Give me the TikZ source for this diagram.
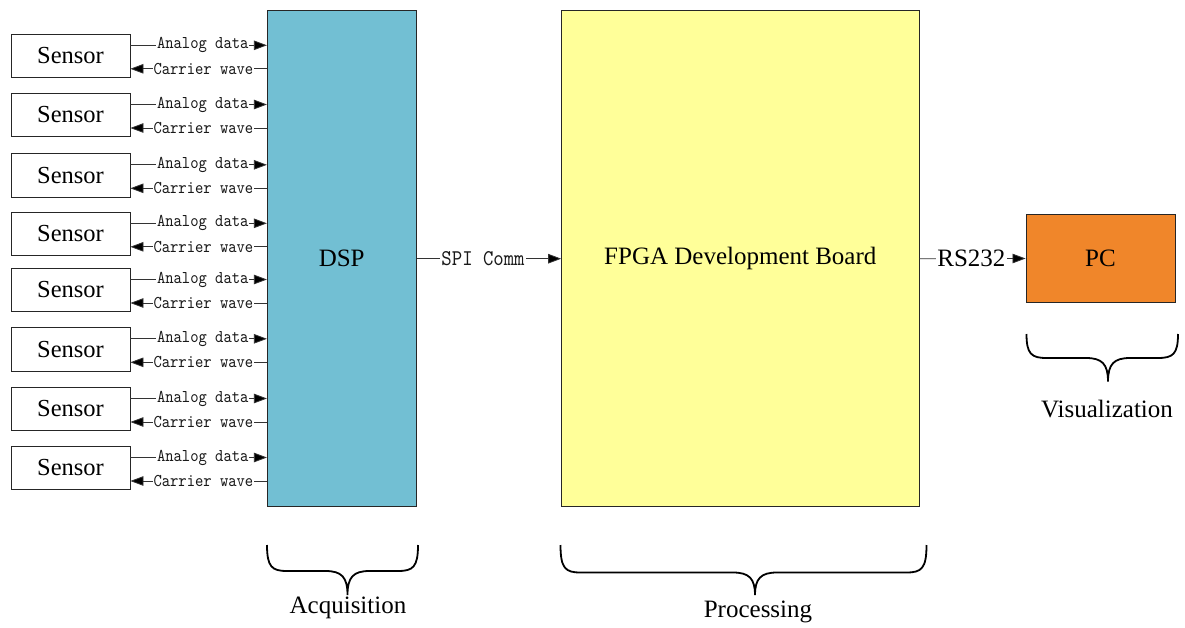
\documentclass[tikz,border=0pt]{standalone}
\usepackage{fontspec}
\setmainfont{Liberation Serif}
\newfontfamily\sigfont{lmmono10-regular.otf}[FakeStretch=0.88]
\usetikzlibrary{arrows.meta}

\definecolor{dspblue}{HTML}{72BFD3}
\definecolor{fpgayellow}{HTML}{FFFF99}
\definecolor{pcorange}{HTML}{F0862A}
\definecolor{wire}{HTML}{333333}

% curly brace opening upwards: #1 left x, #2 right x, #3 top y, #4 bar y, #5 tip y, #6 tip x
\newcommand\drawbrace[6]{%
  \draw[bracestyle] (#1,#3) .. controls (#1,#4-4) and (#1+5,#4) .. (#1+20,#4)
    -- (#6-22,#4) .. controls (#6-6,#4) and (#6,#4+6) .. (#6,#5)
    .. controls (#6,#4+6) and (#6+6,#4) .. (#6+22,#4)
    -- (#2-20,#4) .. controls (#2-5,#4) and (#2,#4-4) .. (#2,#3);
}

\begin{document}
\begin{tikzpicture}[x=1pt,y=-1pt,
  bigtext/.style={font=\fontsize{25pt}{30pt}\selectfont},
  sensorbox/.style={draw=black!85,line width=0.8pt,fill=white,minimum width=119pt,
    minimum height=43.5pt,inner sep=0pt,font=\fontsize{24.5pt}{30pt}\selectfont},
  block/.style={draw=black!85,line width=0.9pt,inner sep=0pt,bigtext},
  arr/.style={draw=wire,line width=0.8pt,-{Triangle[length=13pt,width=9.5pt,fill=black]}},
  sig/.style={fill=white,inner sep=1pt,text=black!90,
    font=\sigfont\fontsize{18pt}{20pt}\selectfont},
  sigbig/.style={fill=white,inner sep=1.5pt,text=black!90,
    font=\sigfont\fontsize{22.5pt}{24pt}\selectfont},
  bracestyle/.style={draw=black,line width=1.8pt},
  caption/.style={bigtext,inner sep=0pt}]

\useasboundingbox (0,0) rectangle (1185,628);

% processing blocks
\node[block,fill=dspblue,minimum width=148.7pt,minimum height=496pt] (dsp) at (341.7,258.7) {DSP};
\node[block,fill=fpgayellow,minimum width=357.3pt,minimum height=496pt] (fpga) at (740.3,258.7) {FPGA Development Board};
\node[block,fill=pcorange,minimum width=149pt,minimum height=87.6pt] (pc) at (1100.5,258.5) {PC};

% sensors with their two signal lines
\foreach \i/\y in {1/55.8,2/115,3/175.3,4/233.8,5/290,6/349.3,7/409,8/468}{
  \node[sensorbox] (s\i) at (70.5,\y) {Sensor};
  \draw[arr] ([yshift=10.5pt]s\i.east) -- ([yshift=10.5pt]s\i.east -| dsp.west)
    node[sig,pos=0.53] {Analog data};
  \draw[arr] ([yshift=-13pt]s\i.east -| dsp.west) -- ([yshift=-13pt]s\i.east)
    node[sig,pos=0.465] {Carrier wave};
}

% links between blocks
\draw[arr] (dsp.east) -- (fpga.west) node[sigbig,pos=0.46] {SPI Comm};
\draw[arr] (fpga.east) -- (pc.west) node[bigtext,fill=white,inner sep=1.5pt,pos=0.49] {RS232};

% stage braces and captions
\drawbrace{267}{418}{545}{571}{595}{347.5}
\drawbrace{560.5}{926.5}{545}{572.5}{595}{755}
\drawbrace{1026.5}{1178}{334}{358}{381.5}{1108}

\node[caption] (acq) at (348,608) {Acquisition};
\node[caption] (proc) at (758,612) {Processing};
\node[caption] (vis) at (1107,409) {Visualization};
\end{tikzpicture}
\end{document}
